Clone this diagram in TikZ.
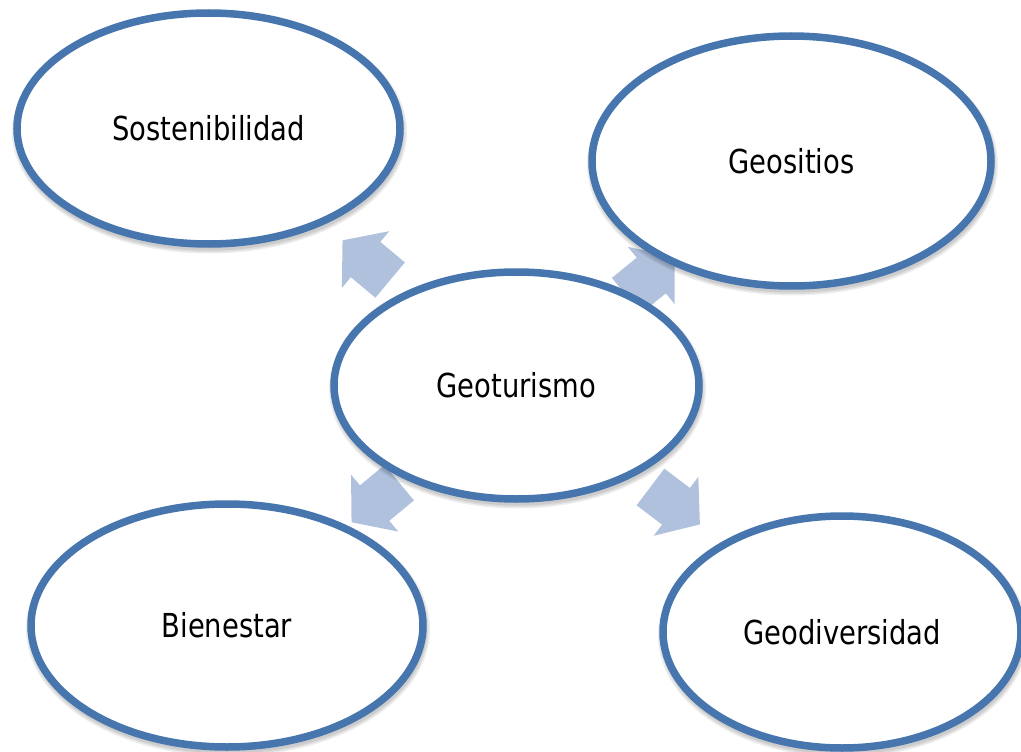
\documentclass[tikz,border=0pt]{standalone}
\usepackage{fontspec}
\setmainfont{DejaVu Sans}[FakeStretch=0.83]
\usetikzlibrary{shapes.geometric,calc,backgrounds}
\definecolor{ringblue}{HTML}{4775AD}
\definecolor{arrowblue}{HTML}{B0C1DE}
\tikzset{
  bubble/.style={ellipse, draw=ringblue, line width=7.5pt, fill=white,
    inner sep=0pt, outer sep=0pt, font=\fontsize{33}{40}\selectfont, text=black,
    text height=24pt, text depth=0pt},
  arrowfill/.style={fill=arrowblue},
  softshadow/.style={draw=black, line width=#1, draw opacity=0.07}
}
% block arrow from node #1 towards node #2, head/body joint at 49% of the way
\newcommand\radarrow[2]{%
  \fill[arrowfill] let \p1=($(#2)-(#1)$), \n1={atan2(\y1,\x1)},
      \p2=($(#1)!0.49!(#2)$) in
    ($(\p2)+(\n1:30pt)$) --
    ($(\p2)+(\n1+90:37pt)$) --
    ($(\p2)+(\n1+90:23pt)$) --
    ($(\p2)+(\n1+90:23pt)+(\n1+180:32pt)$) --
    ($(\p2)+(\n1-90:23pt)+(\n1+180:32pt)$) --
    ($(\p2)+(\n1-90:23pt)$) --
    ($(\p2)+(\n1-90:37pt)$) -- cycle;}
% faint drop shadow of an ellipse node
\newcommand\bubbleshadow[1]{%
  \foreach \w in {12pt,9pt,6pt}{%
    \draw[softshadow=\w] let \p1=($(#1.east)-(#1.center)$), \p2=($(#1.north)-(#1.center)$) in
      ([shift={(1pt,-3.5pt)}]#1.center) ellipse [x radius=\x1, y radius=\y2];}}
\begin{document}
\begin{tikzpicture}[x=1pt,y=-1pt]
\useasboundingbox (0,0) rectangle (1021,752);
\node[bubble, minimum width=365pt, minimum height=227pt] (geo) at (516.5,385.5) {Geoturismo};
\node[bubble, minimum width=383pt, minimum height=231pt] (sost) at (208.5,128.5) {Sostenibilidad};
\node[bubble, minimum width=399pt, minimum height=250pt] (geos) at (791.5,161) {Geositios};
\node[bubble, minimum width=392pt, minimum height=243pt] (bien) at (227,625.5) {Bienestar};
\node[bubble, minimum width=358pt, minimum height=232pt] (geod) at (842,632) {Geodiversidad};
\begin{scope}[on background layer]
  \radarrow{geo}{sost}
  \radarrow{geo}{geos}
  \radarrow{geo}{bien}
  \radarrow{geo}{geod}
  \bubbleshadow{geo}
  \bubbleshadow{sost}
  \bubbleshadow{geos}
  \bubbleshadow{bien}
  \bubbleshadow{geod}
\end{scope}
\end{tikzpicture}
\end{document}
